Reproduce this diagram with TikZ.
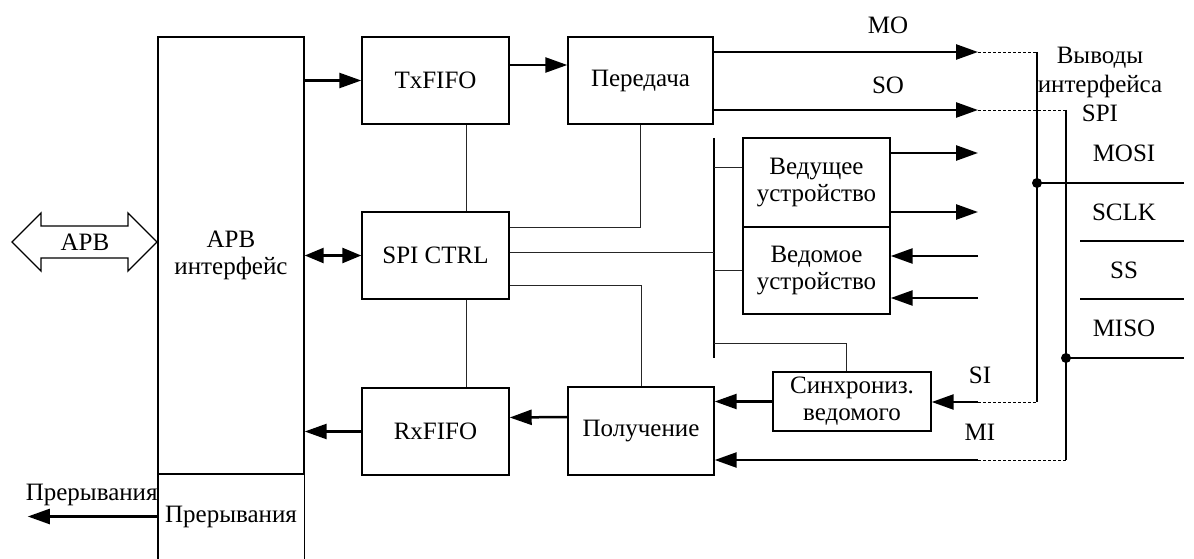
\documentclass[tikz,border=0pt]{standalone}
\usepackage{fontspec}
\setmainfont{Liberation Serif}
\usetikzlibrary{arrows.meta,positioning,calc}
\tikzset{
  blk/.style   ={draw,line width=1.4pt,inner sep=0pt,align=center},
  sig/.style   ={line width=2.5pt,-{Triangle[length=22pt,width=15pt]}},
  sigb/.style  ={line width=2.5pt,{Triangle[length=19pt,width=15pt]}-{Triangle[length=19pt,width=15pt]}},
  wire/.style  ={line width=1pt,black!85},
  busln/.style ={line width=2.7pt},
  pinln/.style ={line width=2.3pt},
  dashln/.style={line width=0.9pt,dash pattern=on 3pt off 2pt},
  lbl/.style   ={inner sep=0pt,align=center},
  dot/.style   ={circle,fill=black,minimum size=10pt,inner sep=0pt},
}
\begin{document}
\begin{tikzpicture}[x=1pt,y=-1pt,font=\fontsize{25}{27}\selectfont]
  \useasboundingbox (0,0) rectangle (1194,559);
  % APB bus arrow
  \draw[line width=1.3pt] (12,242)--(41,213)--(41,226)--(128,226)--(128,213)--(157,242)
     --(128,271)--(128,258)--(41,258)--(41,271)--cycle;
  \node[lbl] (apb) at (85,242) {APB};
  % blocks
  \node[blk,minimum width=146pt,minimum height=437pt] (apbif) at (231,255.5) {APB\\интерфейс};
  \node[lbl,minimum width=146pt,minimum height=85pt] (irq) at (231,516.5) {Прерывания};
  \draw[line width=1.4pt] (irq.north west)--++(0,90) (irq.north east)--++(0,90);
  \node[blk,minimum width=147pt,minimum height=87pt] (txfifo) at (435.5,80.5) {TxFIFO};
  \node[blk,minimum width=145pt,minimum height=87pt] (tx) at (640.5,80.5) {Передача};
  \node[blk,minimum width=147pt,minimum height=87pt] (ctrl) at (435.5,255.5) {SPI CTRL};
  \node[blk,minimum width=147pt,minimum height=87pt] (rxfifo) at (435.5,431.5) {RxFIFO};
  \node[blk,minimum width=146pt,minimum height=88pt] (rx) at (641,431) {Получение};
  \node[blk,minimum width=147pt,minimum height=89pt] (master) at (816.5,182.5) {Ведущее\\устройство};
  \node[blk,minimum width=147pt,minimum height=87pt] (slave) at (816.5,270.5) {Ведомое\\устройство};
  \node[blk,minimum width=158pt,minimum height=59pt] (sync) at (852,401.5) {Синхрониз.\\ведомого};
  % internal bus
  \coordinate (bustop) at (714,138);
  \coordinate (busbot) at (714,358);
  \draw[busln] (bustop)--(busbot);
  % pin columns
  \coordinate (mo) at (978,52);   \coordinate (moc) at (1037,52);
  \coordinate (so) at (978,110);  \coordinate (soc) at (1066,110);
  \coordinate (si) at (978,402);  \coordinate (sic) at (1037,402);
  \coordinate (mi) at (978,460);  \coordinate (mic) at (1066,460);
  \coordinate (mosi) at (1184,183);
  \coordinate (miso) at (1184,358);
  % data arrows
  \draw[sig] (apbif.east|-txfifo.west)--(txfifo.west);
  \draw[sig] ([yshift=15.5pt]txfifo.east)--([yshift=15.5pt]tx.west);
  \draw[sigb] (apbif.east|-ctrl.west)--(ctrl.west);
  \draw[sig] (rxfifo.west)--(apbif.east|-rxfifo.west);
  \draw[sig] ([yshift=14pt]rx.west)--([yshift=14pt]rxfifo.east);
  \draw[sig] (irq.west)--++(-130,0);
  \node[lbl,anchor=south east] (irqlbl) at ([yshift=10pt]irq.west) {Прерывания};
  % control wires
  \draw[wire] ([xshift=30.5pt]txfifo.south)--([xshift=30.5pt]ctrl.north);
  \draw[wire] ([xshift=30.5pt]ctrl.south)--([xshift=30.5pt]rxfifo.north);
  \draw[wire] (tx.south)|-([yshift=28.5pt]ctrl.east);
  \draw[wire] ([yshift=3.5pt]ctrl.east)--([yshift=3.5pt]bustop|-ctrl.east);
  \draw[wire] ([yshift=-29.5pt]ctrl.east)-|(rx.north);
  \draw[wire] ([yshift=15.5pt]bustop|-master.west)--([yshift=15.5pt]master.west);
  \draw[wire] (bustop|-slave.west)--(slave.west);
  \draw[wire] (busbot|-0,343)-|([xshift=-6pt]sync.north);
  % master / slave pins
  \draw[sig] ([yshift=29.5pt]master.east)--([yshift=29.5pt]mo|-master.east);
  \draw[sig] ([yshift=-29.5pt]master.east)--([yshift=-29.5pt]mo|-master.east);
  \draw[sig] ([yshift=14.5pt]mo|-slave.east)--([yshift=14.5pt]slave.east);
  \draw[sig] ([yshift=-27.5pt]mo|-slave.east)--([yshift=-27.5pt]slave.east);
  % MO, SO, SI, MI
  \draw[sig] (tx.east|-mo)--(mo);
  \draw[sig] (tx.east|-so)--(so);
  \draw[sig] (si)--(sync.east|-si);
  \draw[sig] (sync.west)--(rx.east|-sync.west);
  \draw[sig] (mi)--(rx.east|-mi);
  \draw[dashln] (mo)--(moc) (so)--(soc) (si)--(sic) (mi)--(mic);
  \draw[pinln] (moc)--(sic);
  \draw[pinln] (soc)--(mic);
  \node[dot] (dmosi) at (moc|-mosi) {};
  \node[dot] (dmiso) at (soc|-miso) {};
  \draw[pinln] (dmosi.center)--(mosi);
  \draw[pinln] (dmiso.center)--(miso);
  \draw[line width=2pt] (1080,241)--(1184,241) (1080,299)--(1184,299);
  % labels
  \node[lbl] (molbl) at (888,25) {MO};
  \node[lbl] (solbl) at (888,85) {SO};
  \node[lbl] (silbl) at (980,375) {SI};
  \node[lbl] (milbl) at (980,432) {MI};
  \node[lbl,font=\fontsize{25}{29}\selectfont] (pins) at (1100,84) {Выводы\\интерфейса\\SPI};
  \foreach \y/\name in {153/MOSI,212/SCLK,270/SS,328/MISO}
     \node[lbl] (\name) at (1124,\y) {\name};
\end{tikzpicture}
\end{document}
